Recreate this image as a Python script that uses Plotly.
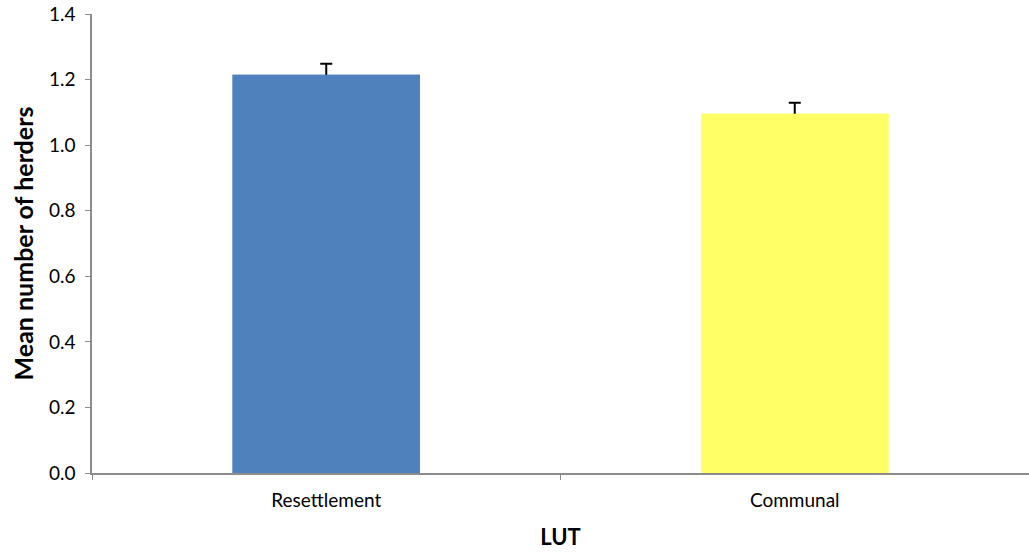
import plotly.graph_objects as go

# Mean number of herders per land-use type (LUT), with standard errors
categories = ["Resettlement", "Communal"]
means = [1.215, 1.096]
std_errors = [0.033, 0.033]
colors = ["#4F81BD", "#FFFF66"]

bar_width = 0.40

fig = go.Figure()

# Bars carrying the error bars
fig.add_trace(
    go.Bar(
        x=categories,
        y=means,
        marker=dict(color=colors, line=dict(width=0)),
        width=bar_width,
        error_y=dict(
            type="data",
            array=std_errors,
            color="black",
            thickness=2,
            width=6,
        ),
        hoverinfo="skip",
    )
)
# Same bars drawn again on top so only the upper whisker shows
fig.add_trace(
    go.Bar(
        x=categories,
        y=means,
        marker=dict(color=colors, line=dict(width=0)),
        width=bar_width,
    )
)

font_family = "Lato, 'Liberation Sans', sans-serif"
axis_grey = "#8C8C8C"

fig.update_layout(
    width=1029,
    height=556,
    margin=dict(l=92, r=0, t=14, b=83),
    barmode="overlay",
    plot_bgcolor="white",
    paper_bgcolor="white",
    showlegend=False,
    font=dict(family=font_family, size=19, color="black"),
    xaxis=dict(
        title=dict(text="<b>LUT</b>", font=dict(size=22), standoff=20),
        showline=True,
        linecolor=axis_grey,
        linewidth=1.5,
        ticks="outside",
        tickson="boundaries",
        ticklen=5,
        tickcolor=axis_grey,
        showgrid=False,
        tickfont=dict(size=19),
        ticklabelstandoff=9,
    ),
    yaxis=dict(
        title=dict(text="<b>Mean number of herders</b>", font=dict(size=25), standoff=8),
        range=[0, 1.4],
        dtick=0.2,
        tickformat=".1f",
        showline=True,
        linecolor=axis_grey,
        linewidth=1.5,
        ticks="outside",
        ticklen=5,
        tickcolor=axis_grey,
        showgrid=False,
        zeroline=False,
        tickfont=dict(size=19),
        ticklabelstandoff=6,
    ),
)

fig.write_html("out.html")
